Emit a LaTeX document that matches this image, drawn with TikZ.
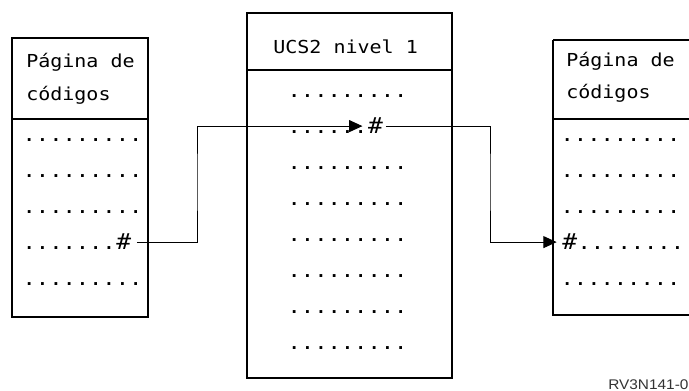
\documentclass[tikz,border=0pt]{standalone}
\usepackage{fontspec}
\usepackage{tikz}
\usetikzlibrary{arrows.meta,positioning}
\newfontfamily\boxfont{DejaVu Sans Mono}[FakeStretch=1.12]
\setsansfont{Liberation Sans}[FakeStretch=1.1]

\begin{document}
\begin{tikzpicture}[x=0.75pt,y=-0.75pt,
    boxtitle/.style={anchor=base west,inner sep=0pt,
                     font=\boxfont\fontsize{13.4}{15}\selectfont},
    dotrow/.style={anchor=base west,inner sep=0pt,
                   font=\boxfont\fontsize{14.8}{16}\selectfont},
    hashmark/.style={dotrow,font=\boxfont\fontsize{16.5}{18}\selectfont},
    figid/.style={anchor=base west,inner sep=0pt,text=black!80,
                  font=\sffamily\fontsize{10.5}{12}\selectfont}]
\useasboundingbox (0,0) rectangle (689,391);

% the three tables
\begin{scope}[line width=1pt]
    \draw (12,38) rectangle (148,317);
    \draw (12,119) -- (148,119);

    \draw (247,13) rectangle (452,378);
    \draw (247,70) -- (452,70);

    \draw (553,40) -- (700,40);
    \draw (553,40) -- (553,315) -- (700,315);
    \draw (553,119) -- (700,119);
\end{scope}

% left code page
\node (titleL1) [boxtitle] at (26,68) {Página de};
\node (titleL2) [boxtitle] at (26,101) {códigos};
\foreach \y [count=\i] in {142,178,214,286}
    \node (rowL\i) [dotrow] at (22.4,\y) {.........};
\node (rowLh) [dotrow] at (22.4,250) {.......};
\node (hashL) [hashmark] at (rowLh.base east) {\#};

% UCS2 table
\node (titleC) [boxtitle] at (273,54) {UCS2 nivel 1};
\foreach \y [count=\i] in {98,170,206,242,278,314,350}
    \node (rowC\i) [dotrow] at (287.4,\y) {.........};
\node (rowCh) [dotrow] at (287.4,134) {......};
\node (hashC) [hashmark] at (rowCh.base east) {\#};

% right code page
\node (titleR1) [boxtitle] at (566,67) {Página de};
\node (titleR2) [boxtitle] at (566,99) {códigos};
\foreach \y [count=\i] in {142,178,214,286}
    \node (rowR\i) [dotrow] at (560.4,\y) {.........};
\node (hashR) [hashmark] at (562,250) {\#};
\node (rowRh) [dotrow] at (hashR.base east) {........};

\node (figlabel) [figid] at (608,390) {RV3N141-0};

% mapping lines
\coordinate (bendL) at (197,180);
\coordinate (bendR) at (490,180);
\begin{scope}[>={Triangle[length=10pt,width=9pt]},shorten >=4pt,
              line width=0.75pt]
    \draw[->] ([xshift=4pt]hashL.east) -| (bendL) |- (hashC.west);
    \draw[->] ([xshift=2pt]hashC.east) -| (bendR) |- (hashR.west);
\end{scope}
\end{tikzpicture}
\end{document}
